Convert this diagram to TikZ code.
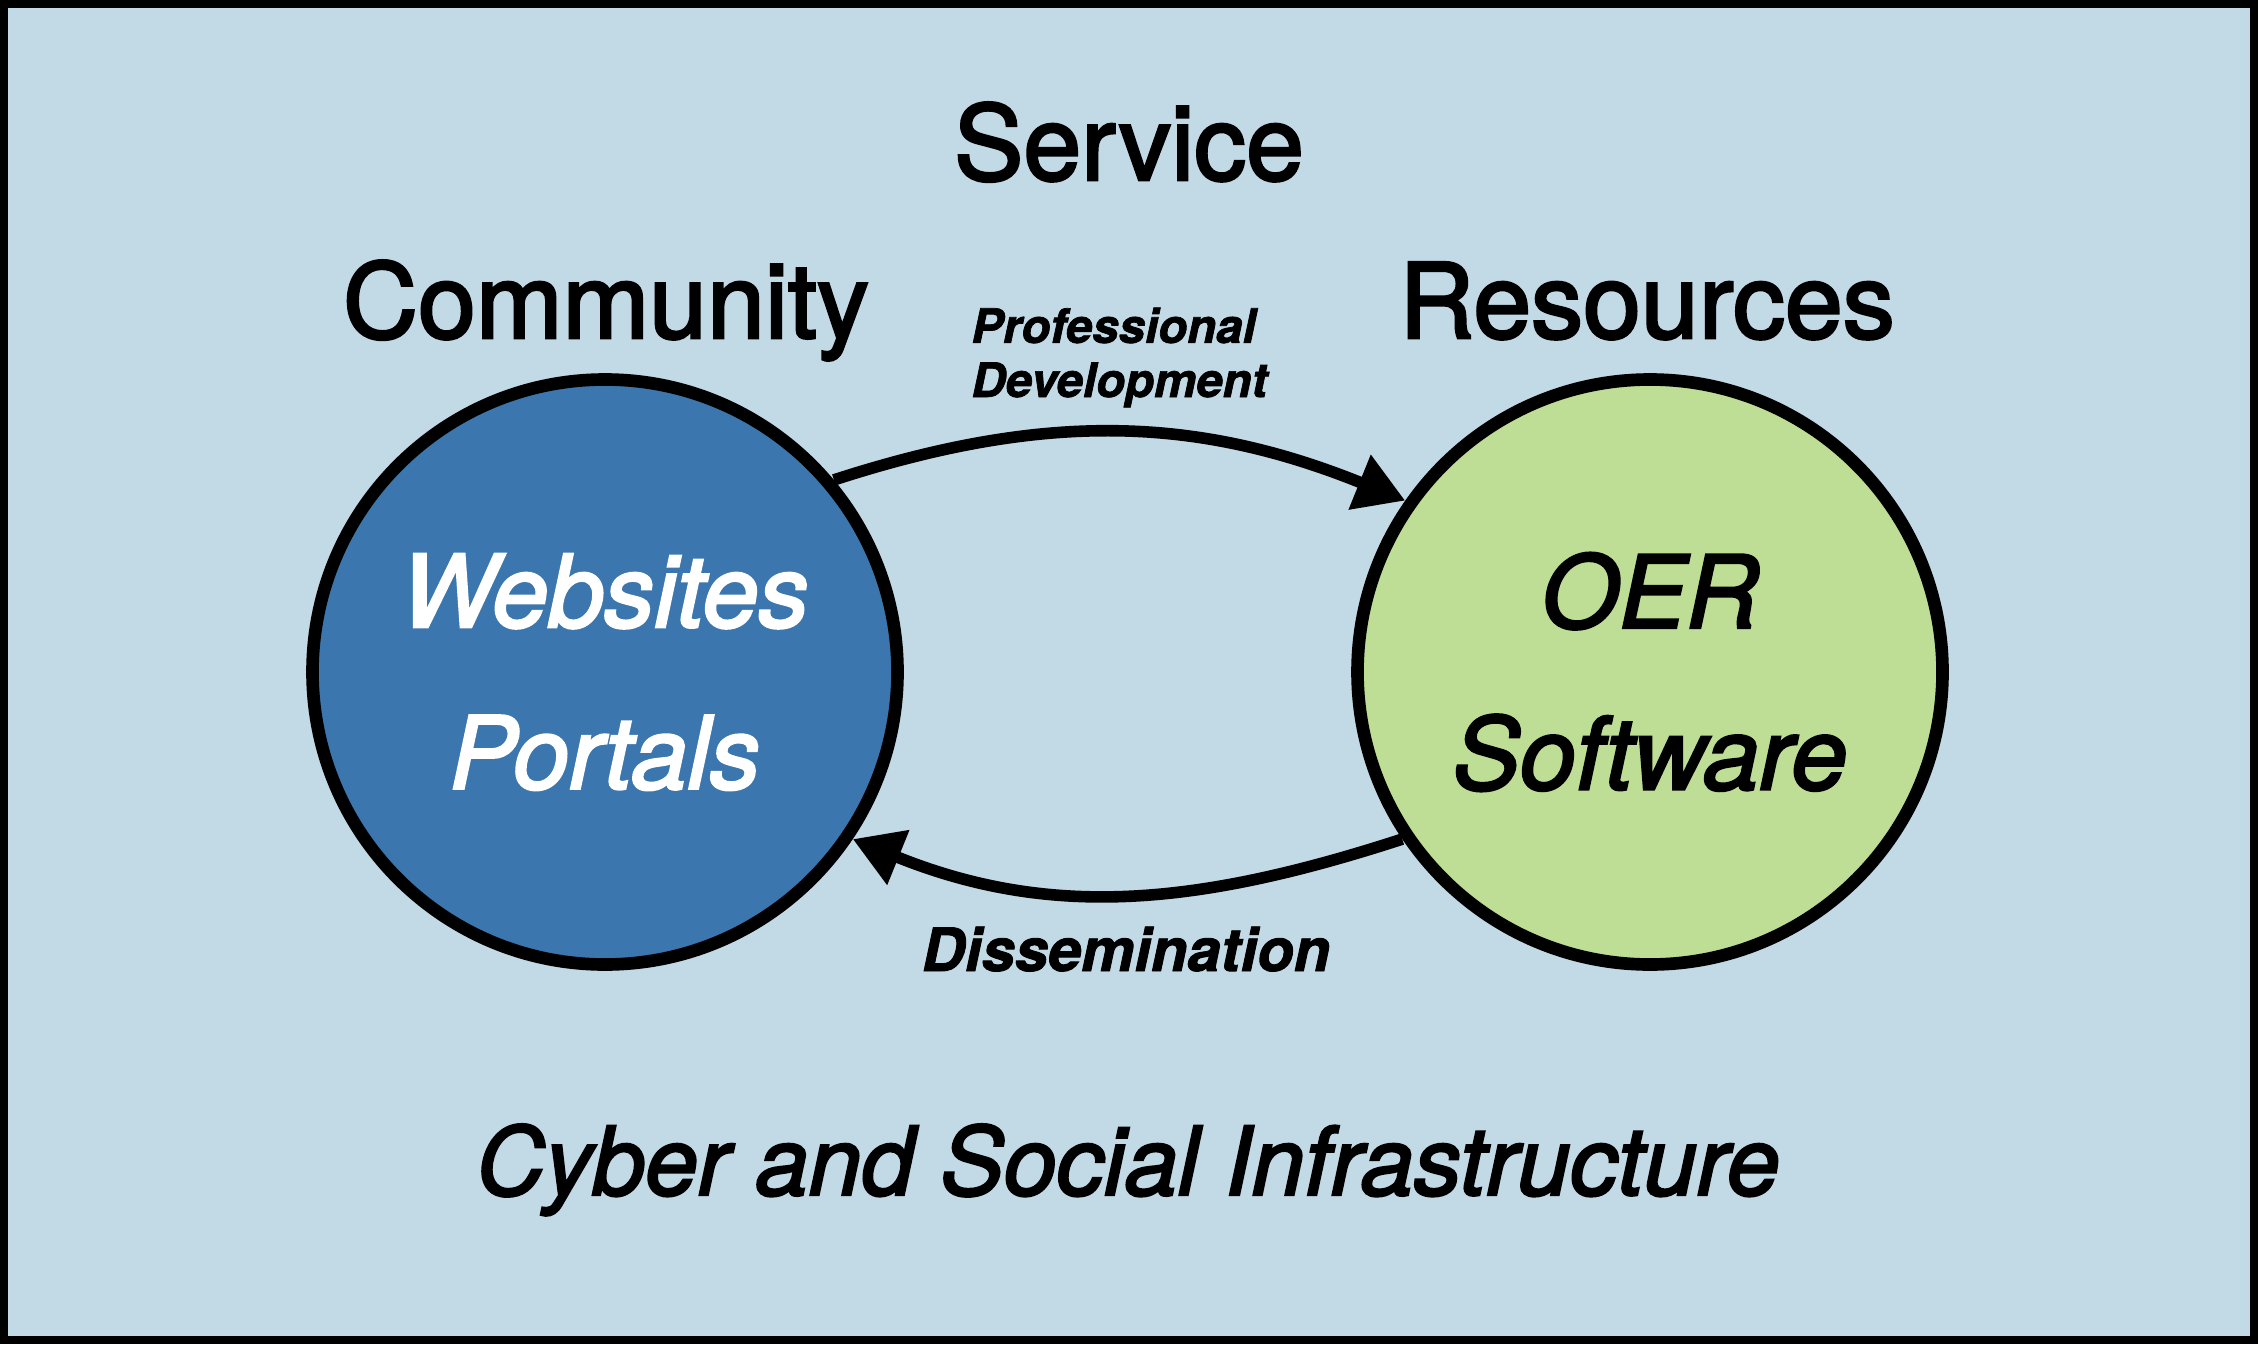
\documentclass[tikz,border=0pt]{standalone}
\usepackage{fontspec}
\setmainfont{TeX Gyre Heros}
\newfontfamily\medfont[FakeBold=2.5]{texgyreheros-regular.otf}
\newfontfamily\meditfont[FakeBold=2.5]{texgyreheros-italic.otf}
\newfontfamily\heavyitfont[FakeBold=1.5]{texgyreheros-bolditalic.otf}
\usepackage{xcolor}
\usepackage{tikz}
\usetikzlibrary{arrows.meta,calc}
\definecolor{bgblue}{RGB}{194,217,230}
\definecolor{hubblue}{RGB}{59,119,174}
\definecolor{hubgreen}{RGB}{189,222,148}
\tikzset{
  hub/.style = {circle, draw=black, line width=3.6pt, minimum size=5.85cm,
    inner sep=0pt, align=center, font=\fontsize{28.6}{46}\meditfont},
  flow/.style = {line width=3.3pt, -{Triangle[length=14pt,width=16pt]}},
  heading/.style = {anchor=base, font=\fontsize{29.6}{35}\medfont}
}

\begin{document}
\begin{tikzpicture}

  \useasboundingbox (0,0) rectangle (22.58,13.44);
  \fill[bgblue] (0,0) rectangle (22.58,13.44);
  \draw[line width=0.08cm] (0.04,0.04) rectangle (22.54,13.40);

  % the two hubs
  \node[hub, fill=hubblue, text=white] (community) at (6.05,6.72) {Websites\\Portals};
  \node[hub, fill=hubgreen] (resources) at (16.50,6.72) {OER\\Software};

  % titles
  \node[heading] (service) at (11.29,11.64) {Service};
  \node[heading] (commtitle) at (6.06,10.06) {Community};
  \node[heading] (restitle) at (16.47,10.06) {Resources};

  % flows between the hubs
  \draw[flow] (community.40) to[out=18, in=158] (resources.145);
  \draw[flow] (resources.214) to[out=198, in=-22] (community.-34);

  \node[anchor=base west, align=left, font=\fontsize{13.5}{15.4}\heavyitfont]
    (profdev) at (9.59,9.47) {Professional\\Development};
  \node[anchor=base, font=\fontsize{17}{20}\heavyitfont]
    (dissem) at (11.26,3.73) {Dissemination};

  \node[anchor=base, font=\fontsize{27}{34}\meditfont]
    (infra) at (11.28,1.49) {Cyber and Social Infrastructure};

\end{tikzpicture}
\end{document}
